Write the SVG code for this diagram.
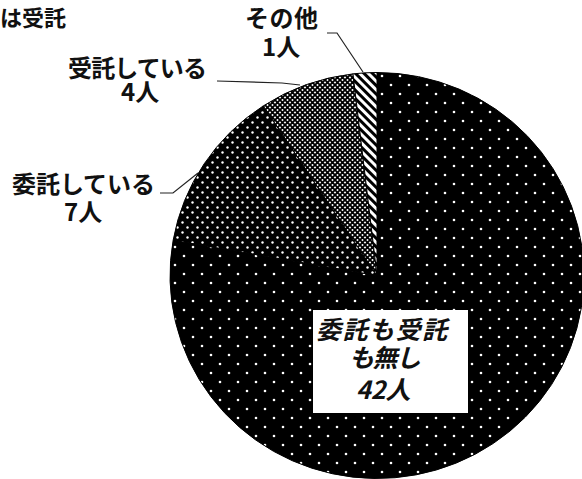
<svg xmlns="http://www.w3.org/2000/svg" width="582" height="479" viewBox="0 0 582 479">
<style>
.lbl{font-family:"Noto Sans CJK JP","Noto Sans CJK SC",sans-serif;font-weight:700;fill:#111;font-size:24px}
.box{font-family:"Noto Sans CJK JP","Noto Sans CJK SC",sans-serif;font-weight:700;font-style:italic;fill:#111;font-size:25px}
.slice{stroke:#000;stroke-width:1}
.lead{fill:none;stroke:#222;stroke-width:1.2}
</style>
<defs>
<pattern id="dotsSparse" patternUnits="userSpaceOnUse" width="18" height="18">
<rect width="18" height="18" fill="#000"/>
<circle cx="4" cy="4" r="1.3" fill="#fff"/>
<circle cx="13" cy="13" r="1.3" fill="#fff"/>
</pattern>
<pattern id="dotsDense" patternUnits="userSpaceOnUse" width="10" height="10">
<rect width="10" height="10" fill="#000"/>
<circle cx="2.5" cy="2.5" r="1.2" fill="#fff"/>
<circle cx="7.5" cy="7.5" r="1.2" fill="#fff"/>
</pattern>
<pattern id="cross" patternUnits="userSpaceOnUse" width="5" height="5">
<rect width="5" height="5" fill="#fff"/>
<path d="M0,0 L5,5 M5,0 L0,5" stroke="#000" stroke-width="1.8"/>
</pattern>
<pattern id="stripes" patternUnits="userSpaceOnUse" width="6" height="6" patternTransform="rotate(-45)">
<rect width="6" height="6" fill="#fff"/>
<rect width="3" height="6" fill="#000"/>
</pattern>
</defs>
<rect width="582" height="479" fill="#fff"/>
<text class="lbl" x="0" y="26" style="font-size:22px">は受託</text>
<g id="slice-none">
<path class="slice" fill="url(#dotsSparse)" d="M377,275.5 L173.14,240.25 A207,203 0 1 0 377,72.5 Z"/>
</g>
<g id="slice-itaku">
<path class="slice" fill="url(#dotsDense)" d="M377,275.5 L263.25,105.9 A207,203 0 0 0 173.14,240.25 Z"/>
</g>
<g id="slice-jutaku">
<path class="slice" fill="url(#cross)" d="M377,275.5 L352.97,73.87 A207,203 0 0 0 263.25,105.9 Z"/>
</g>
<g id="slice-other">
<path class="slice" fill="url(#stripes)" d="M377,275.5 L377,72.5 A207,203 0 0 0 352.97,73.87 Z"/>
</g>
<g id="connectors">
<polyline class="lead" points="327,33 337,33 363,72"/>
<polyline class="lead" points="217,81 282,83 300,85"/>
<polyline class="lead" points="160,193 173,193 198,173"/>
</g>
<g id="label-other">
<text class="lbl" x="245" y="27" textLength="73" lengthAdjust="spacing">その他</text>
<text class="lbl" x="262" y="56">1人</text>
</g>
<g id="label-jutaku">
<text class="lbl" x="68" y="77" textLength="139" lengthAdjust="spacing">受託している</text>
<text class="lbl" x="121" y="101">4人</text>
</g>
<g id="label-itaku">
<text class="lbl" x="12" y="193" textLength="143" lengthAdjust="spacing">委託している</text>
<text class="lbl" x="64" y="221">7人</text>
</g>
<g id="label-none">
<rect x="313" y="310" width="155" height="103" fill="#fff"/>
<text class="box" x="316" y="339" textLength="131" lengthAdjust="spacing">委託も受託</text>
<text class="box" x="349" y="367" textLength="72" lengthAdjust="spacing">も無し</text>
<text class="box" x="356" y="399">42人</text>
</g>
</svg>
